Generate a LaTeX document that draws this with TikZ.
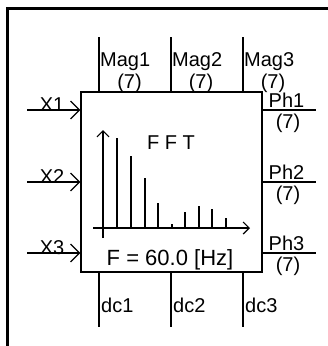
\documentclass[tikz,border=0pt]{standalone}
\usepackage{fontspec}
\setmainfont{Liberation Sans}
\usetikzlibrary{arrows.meta}
\begin{document}
\begin{tikzpicture}[x=1pt,y=-1pt,
  wire/.style={line width=1.2pt},
  lbl/.style={inner sep=0pt, font=\fontsize{20}{20}\selectfont},
  biglbl/.style={inner sep=0pt, font=\fontsize{22}{22}\selectfont},
  inarrow/.style={wire,-{Straight Barb[length=9pt,width=18pt]}},
  axarrow/.style={wire,-{Straight Barb[length=6pt,width=12pt]}}]
\useasboundingbox (0,0) rectangle (328,346);
\fill[white] (0,0) rectangle (328,346);
% outer frame
\draw[line width=2.5pt] (7.5,346) -- (7.5,8.7) -- (328,8.7);
% main block
\node[draw, line width=1.2pt, minimum width=181pt, minimum height=180pt, inner sep=0pt] (box) at (171.5,182) {};
% inputs
\coordinate (x1s) at (27,110);
\coordinate (x2s) at (27,182);
\coordinate (x3s) at (27,253);
\draw[inarrow] (x1s) -- (x1s -| box.west);
\draw[inarrow] (x2s) -- (x2s -| box.west);
\draw[inarrow] (x3s) -- (x3s -| box.west);
\node[lbl, anchor=base] (x1l) at (52,111) {X1};
\node[lbl, anchor=base] (x2l) at (52,183) {X2};
\node[lbl, anchor=base] (x3l) at (52,254) {X3};
% top outputs
\coordinate (m1) at (99,37);
\coordinate (m2) at (171,37);
\coordinate (m3) at (243,37);
\draw[wire] (m1) -- (m1 |- box.north);
\draw[wire] (m2) -- (m2 |- box.north);
\draw[wire] (m3) -- (m3 |- box.north);
\node[lbl, anchor=base west] (mag1) at (100,66.5) {Mag1};
\node[lbl, anchor=base west] (mag2) at (172,66.5) {Mag2};
\node[lbl, anchor=base west] (mag3) at (244,66.5) {Mag3};
\node[lbl, anchor=base] (mag1n) at (129.5,88.5) {(7)};
\node[lbl, anchor=base] (mag2n) at (201,88.5) {(7)};
\node[lbl, anchor=base] (mag3n) at (273,88.5) {(7)};
% right outputs
\coordinate (p1) at (316,110);
\coordinate (p2) at (316,182);
\coordinate (p3) at (316,253);
\draw[wire] (p1 -| box.east) -- (p1);
\draw[wire] (p2 -| box.east) -- (p2);
\draw[wire] (p3 -| box.east) -- (p3);
\node[lbl, anchor=base west] (ph1) at (268.5,107) {Ph1};
\node[lbl, anchor=base west] (ph2) at (268.5,179) {Ph2};
\node[lbl, anchor=base west] (ph3) at (268.5,250) {Ph3};
\node[lbl, anchor=base] (ph1n) at (288,128.5) {(7)};
\node[lbl, anchor=base] (ph2n) at (288,200.5) {(7)};
\node[lbl, anchor=base] (ph3n) at (288,271.5) {(7)};
% bottom outputs
\coordinate (d1) at (99,327);
\coordinate (d2) at (171,327);
\coordinate (d3) at (243,327);
\draw[wire] (d1 |- box.south) -- (d1);
\draw[wire] (d2 |- box.south) -- (d2);
\draw[wire] (d3 |- box.south) -- (d3);
\node[lbl, anchor=base west] (dc1) at (101,312.5) {dc1};
\node[lbl, anchor=base west] (dc2) at (173,312.5) {dc2};
\node[lbl, anchor=base west] (dc3) at (245,312.5) {dc3};
% spectrum icon
\draw[axarrow] (103,238) -- (103,130);
\draw[axarrow] (93,228) -- (250,228);
\foreach \bx/\by in {117/137.5,131/155.5,145/177.5,158/203,172/224,185/211.5,199/205.5,212/209,226/217.5}
  \draw[wire] (\bx,228) -- (\bx,\by);
\node[lbl, anchor=base] (fft) at (171,149) {F F T};
\node[biglbl, anchor=base] (freq) at (170,265) {F = 60.0 [Hz]};
\end{tikzpicture}
\end{document}
